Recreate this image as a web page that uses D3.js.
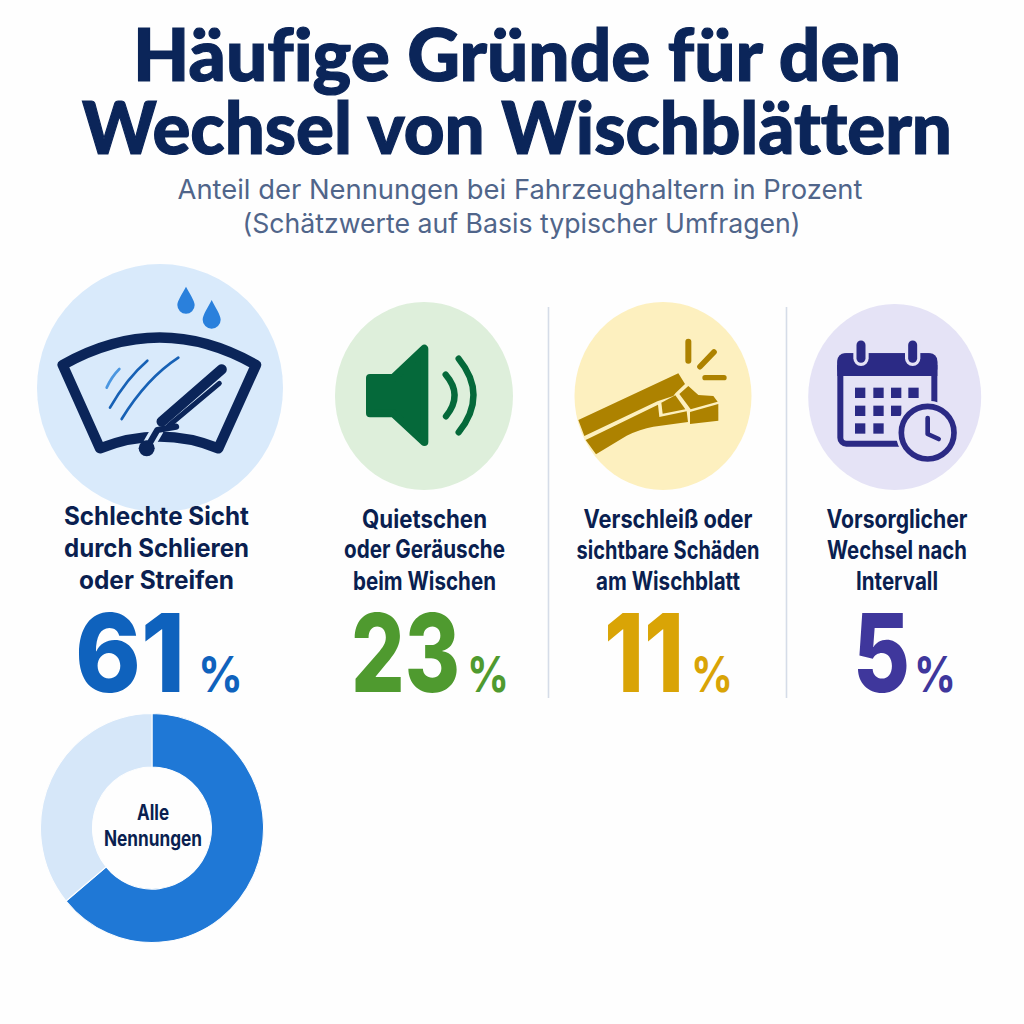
<!DOCTYPE html>
<html lang="de"><head><meta charset="utf-8">
<script src="https://cdn.jsdelivr.net/npm/d3@7"></script>
<style>html,body{margin:0;background:#fefefe}svg{display:block}text{font-family:Inter,"Noto Sans",sans-serif;font-variant-ligatures:none}</style>
</head><body><svg id="c" width="1024" height="1024"></svg>
<script>
// ---- data ----
const titleLines = ["Häufige Gründe für den", "Wechsel von Wischblättern"];
const subtitleLines = ["Anteil der Nennungen bei Fahrzeughaltern in Prozent", "(Schätzwerte auf Basis typischer Umfragen)"];
const categories = [
  ["Schlechte Sicht", "durch Schlieren", "oder Streifen"],
  ["Quietschen", "oder Geräusche", "beim Wischen"],
  ["Verschleiß oder", "sichtbare Schäden", "am Wischblatt"],
  ["Vorsorglicher", "Wechsel nach", "Intervall"]
];
const values = [61, 23, 11, 5];
const donutLabel = ["Alle", "Nennungen"];
const donutShares = [64, 36];   // share of the ring as drawn in the picture

// ---- styles and layout ----
const navy = "#0b2559", labelInk = "#0a1f50", subInk = "#50658a";
const valueColors = ["#0f62bd", "#4f9a2f", "#d9a406", "#3f379c"];
const discFills = ["#d9eafb", "#deefdb", "#fdf0bf", "#e5e3f6"];
const discs = [[160, 388, 123, 124], [424, 396, 89, 94], [663, 396, 88.5, 94], [894.7, 397, 86.5, 93]];
const labelCenters = [156.5, 424.5, 668, 897];
const labelBase = [[525, 557, 589], [528, 558, 590], [528, 559, 590], [528, 559, 590]];
const labelWidths = [[185, 185, 155], [125, 161, 143], [169, 183, 144], [141, 140, 82]];
const numberBoxes = [[75, 110], [351, 109], [604, 80], [853, 57]];
const pctBoxes = [[198, 45], [467, 42], [691, 42], [914, 42]];

const svg = d3.select("#c");

function fitted(g, str, x, y, width, size, weight, fill, anchor = "middle", family = null) {
  const t = g.append("text").attr("x", x).attr("y", y).attr("text-anchor", anchor)
    .attr("font-size", size).attr("font-weight", weight).attr("fill", fill)
    .attr("textLength", width).attr("lengthAdjust", "spacingAndGlyphs").text(str);
  if (family) t.style("font-family", family);
  return t;
}

// title
[[517, 81, 768], [517, 154, 870]].forEach(([x, y, w], i) =>
  fitted(svg, titleLines[i], x, y, w, 73, 900, navy, "middle", "Lato").attr("stroke", navy).attr("stroke-width", 1.2));
[[520, 199, 685], [521.5, 233, 558]].forEach(([x, y, w], i) => fitted(svg, subtitleLines[i], x, y, w, 27, 400, subInk));

// discs, dividers
svg.selectAll("ellipse.disc").data(discs).join("ellipse").attr("class", "disc")
  .attr("cx", d => d[0]).attr("cy", d => d[1]).attr("rx", d => d[2]).attr("ry", d => d[3])
  .attr("fill", (d, i) => discFills[i]);
svg.selectAll("line.div").data([548.5, 786.5]).join("line").attr("class", "div")
  .attr("x1", d => d).attr("x2", d => d).attr("y1", 307).attr("y2", 698)
  .attr("stroke", "#d5dce8").attr("stroke-width", 1.6);

// labels and values
categories.forEach((lines, i) => {
  lines.forEach((l, j) => fitted(svg, l, labelCenters[i], labelBase[i][j], labelWidths[i][j], 25, 650, labelInk));
  fitted(svg, String(values[i]), numberBoxes[i][0], 692, numberBoxes[i][1], 108, 800, valueColors[i], "start");
  fitted(svg, "%", pctBoxes[i][0], 692, pctBoxes[i][1], 50, 650, valueColors[i], "start");
});

// donut
const pie = d3.pie().sort(null);
const arc = d3.arc().innerRadius(59.5).outerRadius(111.5);
const dg = svg.append("g").attr("transform", "translate(152,828) scale(1,1.027)");
dg.selectAll("path").data(pie(donutShares)).join("path").attr("d", arc)
  .attr("fill", (d, i) => ["#1f78d6", "#d6e7f9"][i]).attr("stroke", "#fefefe").attr("stroke-width", 1);
fitted(svg, donutLabel[0], 153, 820, 32, 21, 650, labelInk);
fitted(svg, donutLabel[1], 153, 846, 98, 21, 650, labelInk);

// ---- icons, drawn in zoomed (3x) pixel space ----
const icon = (x, y) => svg.append("g").attr("transform", `translate(${x},${y}) scale(${1 / 3})`).attr("fill", "none");
const line = (g, d, c, w, cap = "round") => g.append("path").attr("d", d).attr("stroke", c).attr("stroke-width", w).attr("stroke-linecap", cap).attr("stroke-linejoin", "round");
const fill = (g, d, c) => g.append("path").attr("d", d).attr("fill", c);

// windshield
const w = icon(20, 250), bgB = discFills[0];
line(w, "M128,345 Q420,180 708,345 L595,595 Q420,525 240,595 Z", navy, 31);
line(w, "M298,357 Q275,380 260,413", "#4a96e0", 8);
line(w, "M382,332 Q320,385 270,473", "#1761b5", 8);
line(w, "M475,323 Q380,385 305,507", "#1761b5", 8);
const drop = (x, t, b, r) => fill(w, `M${x},${t} C${x + r * .4},${t + (b - t) * .25} ${x + r},${b - r * 1.5} ${x + r},${b - r} A${r},${r} 0 1 1 ${x - r},${b - r} C${x - r},${b - r * 1.5} ${x - r * .4},${t + (b - t) * .25} ${x},${t}`, "#2a80dc");
drop(498, 110, 191, 26); drop(575, 150, 236, 27);
line(w, "M380,595 L412,540", bgB, 38);
line(w, "M440,530 L598,400", bgB, 28);
line(w, "M605,358 L425,515", bgB, 40);
line(w, "M445,528 L598,400", navy, 15);
line(w, "M380,595 L412,540 L468,530", navy, 19);
line(w, "M605,358 L425,515", navy, 31);
w.append("circle").attr("cx", 380).attr("cy", 595).attr("r", 24).attr("fill", navy);

// speaker
const green = "#05693a", s = icon(320, 290);
const sp = fill(s, "M150,264 H220 L313,176 V456 L220,370 H150 Z", green);
sp.attr("stroke", green).attr("stroke-width", 24).attr("stroke-linejoin", "round");
line(s, "M377,254 Q430,315 378,379", green, 19);
line(s, "M416,206 Q505,315 416,427", green, 19);

// broken blade
const gold = "#ad8200", b = icon(320, 290);
fill(b, "M775,390 L1075,250 L1095,282 L1066,310 L1060,318 L1012,334 L793,438 Z", gold);
fill(b, "M797,450 L1014,344 L1018,381 L1100,364 L1104,396 L1000,410 Q960,417 920,437 L828,493 Z", gold);
fill(b, "M1024,338 L1066,316 L1096,358 L1028,371 Z", gold);
fill(b, "M1105,288 L1135,315 L1180,318 L1193,335 L1112,358 L1078,312 Z", gold);
fill(b, "M1110,366 L1195,342 L1195,392 L1110,402 Z", gold);
line(b, "M1105,155 L1105,212", gold, 18);
line(b, "M1182,186 L1140,230", gold, 17);
line(b, "M1155,263 L1212,263", gold, 16);

// calendar with clock
const ink = "#2b2a85", bgP = discFills[3], k = icon(780, 290);
k.append("rect").attr("x", 181).attr("y", 199).attr("width", 282).attr("height", 262).attr("rx", 18).attr("stroke", ink).attr("stroke-width", 18);
k.append("rect").attr("x", 172).attr("y", 190).attr("width", 300).attr("height", 68).attr("rx", 22).attr("fill", ink);
k.append("rect").attr("x", 172).attr("y", 225).attr("width", 300).attr("height", 33).attr("fill", ink);
[243, 398].forEach(x => {
  line(k, `M${x},165 L${x},205`, bgP, 46);
  line(k, `M${x},165 L${x},205`, ink, 27);
});
[[225, 293], [280, 293], [333, 293], [385, 293], [225, 347], [280, 347], [333, 347], [225, 400], [280, 400]].forEach(([x, y]) =>
  k.append("rect").attr("x", x).attr("y", y).attr("width", 31).attr("height", 31).attr("fill", ink));
k.append("circle").attr("cx", 443).attr("cy", 428).attr("r", 96).attr("fill", bgP);
k.append("circle").attr("cx", 443).attr("cy", 428).attr("r", 79).attr("stroke", ink).attr("stroke-width", 17);
line(k, "M443,384 L443,432 L476,447", ink, 14);
</script></body></html>
